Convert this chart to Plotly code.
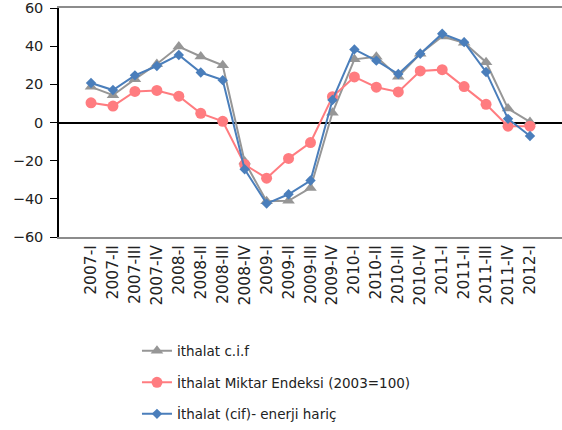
import plotly.graph_objects as go

quarters = ["2007-I", "2007-II", "2007-III", "2007-IV",
            "2008-I", "2008-II", "2008-III", "2008-IV",
            "2009-I", "2009-II", "2009-III", "2009-IV",
            "2010-I", "2010-II", "2010-III", "2010-IV",
            "2011-I", "2011-II", "2011-III", "2011-IV", "2012-I"]

ithalat_cif = [18.7, 14.3, 22.7, 30.7, 39.8, 34.6, 30.0, -20.5,
               -41.3, -41.0, -34.3, 5.1, 33.1, 34.4, 24.0, 36.0,
               45.1, 41.8, 31.6, 7.3, 0.3]
miktar_endeksi = [10.3, 8.6, 16.3, 16.8, 13.8, 4.8, 0.6, -22.0,
                  -29.2, -18.8, -10.5, 13.5, 23.9, 18.5, 16.0, 27.0,
                  27.7, 18.8, 9.5, -1.9, -1.9]
enerji_haric = [20.7, 17.0, 24.7, 29.6, 35.4, 26.2, 22.2, -24.5,
                -42.5, -37.6, -30.4, 11.8, 38.3, 32.4, 25.4, 36.0,
                46.5, 42.1, 26.5, 1.9, -7.1]

names = ["ithalat c.i.f", "İthalat Miktar Endeksi (2003=100)", "İthalat (cif)- enerji hariç"]
colors = ["#969696", "#FF7C80", "#4A7EBB"]

FONT = "DejaVu Sans"

fig = go.Figure()
fig.add_trace(go.Scatter(x=quarters, y=ithalat_cif, name=names[0], mode="lines+markers",
                         line=dict(color=colors[0], width=2),
                         marker=dict(symbol="triangle-up", size=11, color=colors[0]),
                         legendgroup="a"))
fig.add_trace(go.Scatter(x=quarters, y=miktar_endeksi, name=names[1], mode="lines+markers",
                         line=dict(color=colors[1], width=2),
                         marker=dict(symbol="circle", size=11, color=colors[1]),
                         legendgroup="b"))
fig.add_trace(go.Scatter(x=quarters, y=enerji_haric, name=names[2], mode="lines+markers",
                         line=dict(color=colors[2], width=2),
                         marker=dict(symbol="diamond", size=8, color=colors[2]),
                         legendgroup="c"))

fig.update_layout(
    width=562, height=430,
    margin=dict(l=59, r=0, t=8, b=186),
    paper_bgcolor="white", plot_bgcolor="white",
    font=dict(family=FONT, size=14, color="#222222"),
    showlegend=True,
    legend=dict(orientation="v", x=0.155, xanchor="left", y=-0.43, yanchor="top",
                font=dict(family=FONT, size=13.5, color="#222222"),
                tracegroupgap=11, traceorder="grouped", bgcolor="rgba(0,0,0,0)"),
    xaxis=dict(type="category", showgrid=False, showline=True, linecolor="#8c8c8c",
               linewidth=2, mirror=True, ticks="", tickangle=-90,
               tickfont=dict(family=FONT, size=15.5, color="#222222")),
    yaxis=dict(range=[-60, 60], dtick=20, showgrid=False, showline=True,
               linecolor="black", linewidth=1.5, ticks="outside", ticklen=7,
               tickcolor="black", zeroline=True, zerolinecolor="black",
               zerolinewidth=1.5, ticklabelstandoff=4,
               tickfont=dict(family=FONT, size=14.5, color="#222222")),
)

fig.write_html("out.html")
